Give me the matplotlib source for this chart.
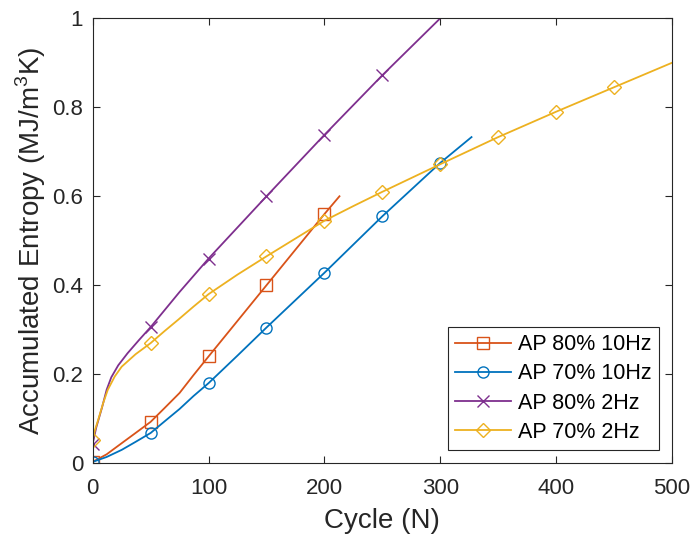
import matplotlib
matplotlib.use("Agg")
import matplotlib.pyplot as plt

# line data
c80_10 = [0, 12, 25, 37, 50, 62, 75, 87, 100, 125, 150, 175, 200, 213]
e80_10 = [0.003, 0.02, 0.045, 0.068, 0.093, 0.124, 0.158, 0.198, 0.24, 0.32,
          0.40, 0.48, 0.56, 0.60]

c70_10 = [0, 12, 25, 37, 50, 62, 75, 87, 100, 125, 150, 200, 250, 300, 327]
e70_10 = [0.003, 0.014, 0.03, 0.048, 0.068, 0.094, 0.122, 0.151, 0.18, 0.242,
          0.305, 0.428, 0.555, 0.675, 0.733]

c80_2 = [0, 3, 8, 12, 16, 22, 30, 40, 50, 75, 100, 150, 200, 250, 300]
e80_2 = [0.044, 0.08, 0.125, 0.165, 0.193, 0.22, 0.247, 0.277, 0.306, 0.385,
         0.46, 0.60, 0.738, 0.872, 1.0]

c70_2 = [0, 2, 5, 9, 13, 19, 25, 37, 50, 62, 74, 87, 100, 125, 150, 175, 200,
         225, 250, 300, 350, 400, 450, 500]
e70_2 = [0.053, 0.075, 0.1, 0.135, 0.165, 0.195, 0.217, 0.245, 0.27, 0.297,
         0.323, 0.352, 0.38, 0.424, 0.465, 0.505, 0.545, 0.578, 0.61, 0.672,
         0.733, 0.79, 0.845, 0.9]

# marker data (every 50 cycles)
m80_10 = [0, 50, 100, 150, 200]
v80_10 = [0.003, 0.093, 0.24, 0.40, 0.56]
m70_10 = [0, 50, 100, 150, 200, 250, 300]
v70_10 = [0.003, 0.068, 0.18, 0.305, 0.428, 0.555, 0.675]
m80_2 = [0, 50, 100, 150, 200, 250]
v80_2 = [0.044, 0.306, 0.46, 0.60, 0.738, 0.872]
m70_2 = [0, 50, 100, 150, 200, 250, 300, 350, 400, 450]
v70_2 = [0.053, 0.27, 0.38, 0.465, 0.545, 0.61, 0.672, 0.733, 0.79, 0.845]

plt.rcParams["font.family"] = ["Liberation Sans", "DejaVu Sans"]
plt.rcParams["mathtext.fontset"] = "custom"
plt.rcParams["mathtext.rm"] = "Liberation Sans"
dark = "#262626"

fig = plt.figure(figsize=(6.92, 5.38), dpi=100)
ax = fig.add_axes([0.134, 0.139, 0.837, 0.827])

series = [
    ("AP 80% 10Hz", c80_10, e80_10, m80_10, v80_10, "#D95319", "s"),
    ("AP 70% 10Hz", c70_10, e70_10, m70_10, v70_10, "#0072BD", "o"),
    ("AP 80% 2Hz", c80_2, e80_2, m80_2, v80_2, "#7E2F8E", "x"),
    ("AP 70% 2Hz", c70_2, e70_2, m70_2, v70_2, "#EDB120", "D"),
]

handles = []
for name, cx, cy, mx, my, col, mk in series:
    ax.plot(cx, cy, color=col, lw=1.3)
    ms = 7 if mk == "D" else 8
    ax.plot(mx, my, ls="none", marker=mk, ms=ms, mfc="none", mec=col, mew=1.0)
    h, = ax.plot([], [], color=col, lw=1.3, marker=mk, ms=ms, mfc="none",
                 mec=col, mew=1.0, label=name)
    handles.append(h)

ax.set_xlim(0, 500)
ax.set_ylim(0, 1)
ax.set_xticks([0, 100, 200, 300, 400, 500])
ax.set_yticks([0, 0.2, 0.4, 0.6, 0.8, 1.0])
ax.set_yticklabels(["0", "0.2", "0.4", "0.6", "0.8", "1"])
ax.tick_params(direction="in", top=True, right=True, length=5, width=0.8,
               labelsize=16, colors=dark)
ax.tick_params(axis="x", pad=11)
ax.tick_params(axis="y", pad=7)
for s in ax.spines.values():
    s.set_color(dark)
    s.set_linewidth(0.8)

ax.set_xlabel("Cycle (N)", fontsize=20, color=dark, labelpad=6)
ax.set_ylabel("Accumulated Entropy (MJ/m$^3$K)", fontsize=20, color=dark,
              labelpad=3)

leg = ax.legend(handles=handles, loc="lower right", fontsize=15.5,
                fancybox=False, framealpha=1, edgecolor=dark,
                borderaxespad=0.6, handlelength=2.6, handletextpad=0.3,
                labelspacing=0.38, borderpad=0.35)
leg.get_frame().set_linewidth(0.8)

fig.savefig("out.png", dpi=100)
